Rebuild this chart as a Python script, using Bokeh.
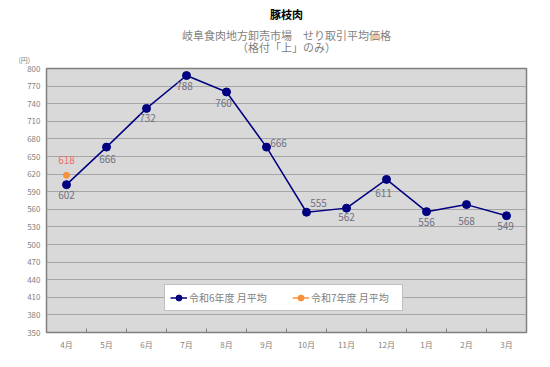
from bokeh.plotting import figure
from bokeh.models import ColumnDataSource, FixedTicker, Legend, LegendItem, Title, Range1d
from bokeh.core.properties import value
from bokeh.embed import file_html
from bokeh.resources import INLINE

FONT = "Noto Sans CJK JP"

months = ["4月", "5月", "6月", "7月", "8月", "9月", "10月", "11月", "12月", "1月", "2月", "3月"]
r6 = [602, 666, 732, 788, 760, 666, 555, 562, 611, 556, 568, 549]
r7 = [618]
y_ticks = list(range(350, 801, 30))

# label offsets (pixels) for the data labels
r6_dx = [0, 1, 1, -2, -3, 12, 12, 0, -3, 0, 0, -1]
r6_dy = [10, 12, 10, 10, 11, -4, -9, 9, 14, 10, 16, 10]
r7_dx = [0]
r7_dy = [-15]

xs6 = [i + 0.5 for i in range(len(r6))]
xs7 = [i + 0.5 for i in range(len(r7))]

src6 = ColumnDataSource(dict(x=xs6, y=r6, t=[str(v) for v in r6], dx=r6_dx, dy=r6_dy))
src7 = ColumnDataSource(dict(x=xs7, y=r7, t=[str(v) for v in r7], dx=r7_dx, dy=r7_dy))

p = figure(frame_width=480, frame_height=264, output_backend="svg", toolbar_location=None,
           x_range=Range1d(0, len(months)), y_range=Range1d(350, 800),
           min_border_left=46, min_border_right=16, min_border_bottom=27, min_border_top=68)
p.background_fill_color = "#d9d9d9"
p.border_fill_color = "white"
p.outline_line_color = "#808080"
p.outline_line_width = 1.5

p.xgrid.visible = False
p.ygrid.grid_line_color = "#a6a6a6"
p.ygrid.grid_line_width = 1

p.yaxis.ticker = FixedTicker(ticks=y_ticks)
p.yaxis.major_tick_in = 0
p.yaxis.major_tick_out = 0
p.yaxis.minor_tick_line_color = None
p.yaxis.axis_line_color = "#808080"
p.yaxis.major_label_text_font = FONT
p.yaxis.major_label_text_font_size = "8px"
p.yaxis.major_label_text_color = "#7f7f7f"
p.yaxis.major_label_standoff = 6

p.xaxis.ticker = FixedTicker(ticks=xs6, minor_ticks=list(range(1, len(months))))
p.xaxis.major_label_overrides = {x: m for x, m in zip(xs6, months)}
p.xaxis.major_tick_in = 0
p.xaxis.major_tick_out = 0
p.xaxis.minor_tick_in = 4
p.xaxis.minor_tick_out = 0
p.xaxis.minor_tick_line_color = "#808080"
p.xaxis.axis_line_color = "#808080"
p.xaxis.major_label_text_font = FONT
p.xaxis.major_label_text_font_size = "8px"
p.xaxis.major_label_text_color = "#7f7f7f"
p.xaxis.major_label_standoff = 6

l6 = p.line("x", "y", source=src6, line_color="#000080", line_width=1.5)
s6 = p.scatter("x", "y", source=src6, size=8, fill_color="#000080", line_color="#000080")
l7 = p.line("x", "y", source=src7, line_color="#f7923a", line_width=1.5)
s7 = p.scatter("x", "y", source=src7, size=6, fill_color="#f7923a", line_color="#f7923a")

p.text("x", "y", text="t", source=src6, x_offset="dx", y_offset="dy",
       text_font=value(FONT), text_font_size="10px", text_color="#707080",
       text_align="center", text_baseline="middle")
p.text("x", "y", text="t", source=src7, x_offset="dx", y_offset="dy",
       text_font=value(FONT), text_font_size="10px", text_color="#f06c6c",
       text_align="center", text_baseline="middle")

legend = Legend(items=[LegendItem(label="令和6年度 月平均", renderers=[l6, s6]),
                       LegendItem(label="令和7年度 月平均", renderers=[l7, s7])],
                orientation="horizontal", location=(118, 21), margin=0,
                padding=5, spacing=17, glyph_width=17, glyph_height=15,
                label_standoff=2, label_width=86, label_height=15,
                label_text_font=FONT, label_text_font_size="10px", label_text_color="#7f7f7f",
                border_line_color="#808080", border_line_width=1,
                background_fill_color="white", background_fill_alpha=1)
p.add_layout(legend, "center")

# titles, nearest to the frame first
p.add_layout(Title(text="(円)", align="left", offset=-28, standoff=8,
                   text_font=FONT, text_font_size="7px", text_color="#7f7f7f",
                   text_font_style="normal"), "above")
p.add_layout(Title(text="（格付「上」のみ）", align="center", standoff=-13,
                   text_font=FONT, text_font_size="11px", text_color="#7f7f7f",
                   text_font_style="normal"), "above")
p.add_layout(Title(text="岐阜食肉地方卸売市場　せり取引平均価格", align="center", standoff=2,
                   text_font=FONT, text_font_size="11px", text_color="#7f7f7f",
                   text_font_style="normal"), "above")
p.add_layout(Title(text="豚枝肉", align="center", standoff=3,
                   text_font=FONT, text_font_size="11px", text_color="black",
                   text_font_style="bold"), "above")

open("out.html", "w").write(file_html(p, INLINE))
